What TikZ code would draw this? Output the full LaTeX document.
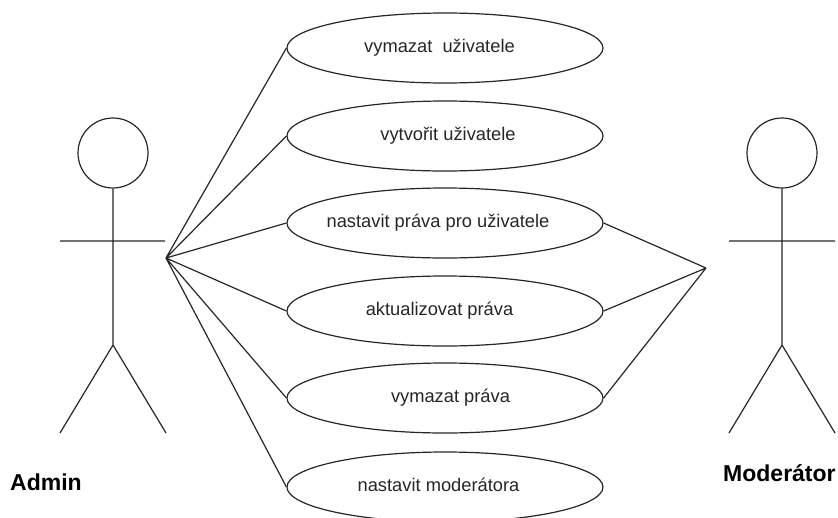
\documentclass[tikz,border=0pt]{standalone}
\usepackage{fontspec}
\setmainfont{Liberation Sans}
\usetikzlibrary{shapes.geometric}
\definecolor{ink}{gray}{0.15}
\newcommand{\shifted}[3]{\raisebox{#2pt}{\hspace*{#1pt}#3}}
\begin{document}
\begin{tikzpicture}[x=1pt,y=-1pt,
 usecase/.style={draw=ink,ellipse,minimum width=316pt,minimum height=70pt,inner sep=0pt,line width=1.2pt,text=ink,font=\fontsize{18.3}{21}\selectfont},
 head/.style={draw=ink,circle,minimum size=70pt,inner sep=0pt,line width=1.2pt},
 line/.style={draw=ink,line width=1.2pt},
 actorname/.style={text=black,font=\bfseries\fontsize{23}{26}\selectfont,inner sep=0pt}]
\useasboundingbox (0,0) rectangle (838,517);
\node[head] (h1) at (113,153) {};
\node[head] (h2) at (782,153) {};
\coordinate (ah) at (166,258);
\coordinate (mh) at (706,268);
\node[usecase] (u1) at (445,48) {\shifted{-11}{0}{vymazat\ \ uživatele}};
\node[usecase] (u2) at (445,136) {\shifted{6}{0}{vytvořit uživatele}};
\node[usecase] (u3) at (445,223) {\shifted{-14}{2}{nastavit práva pro uživatele}};
\node[usecase] (u4) at (445,311) {\shifted{-11}{2}{aktualizovat práva}};
\node[usecase] (u5) at (445,398) {\shifted{11}{0}{vymazat práva}};
\node[usecase] (u6) at (445,487) {\shifted{-13}{4}{nastavit moderátora}};
\coordinate (a1) at (60,241); \coordinate (a2) at (165,241);
\coordinate (a3) at (113,345); \coordinate (a4) at (60,433); \coordinate (a5) at (166,433);
\draw[line] (h1.south) -- (a3) (a1) -- (a2) (a4) -- (a3) -- (a5);
\coordinate (b1) at (729,241); \coordinate (b2) at (835,241);
\coordinate (b3) at (782,345); \coordinate (b4) at (729,433); \coordinate (b5) at (835,433);
\draw[line] (h2.south) -- (b3) (b1) -- (b2) (b4) -- (b3) -- (b5);
\draw[line] (ah) -- (u1.west) (ah) -- (u2.west) (ah) -- (u3.west) (ah) -- (u4.west) (ah) -- (u5.west) (ah) -- (u6.west);
\draw[line] (mh) -- (u3.east) (mh) -- (u4.east) (mh) -- (u5.east);
\node[actorname,anchor=west] (n1) at (10,482) {Admin};
\node[actorname,anchor=west] (n2) at (723,473) {Moderátor};
\end{tikzpicture}
\end{document}
